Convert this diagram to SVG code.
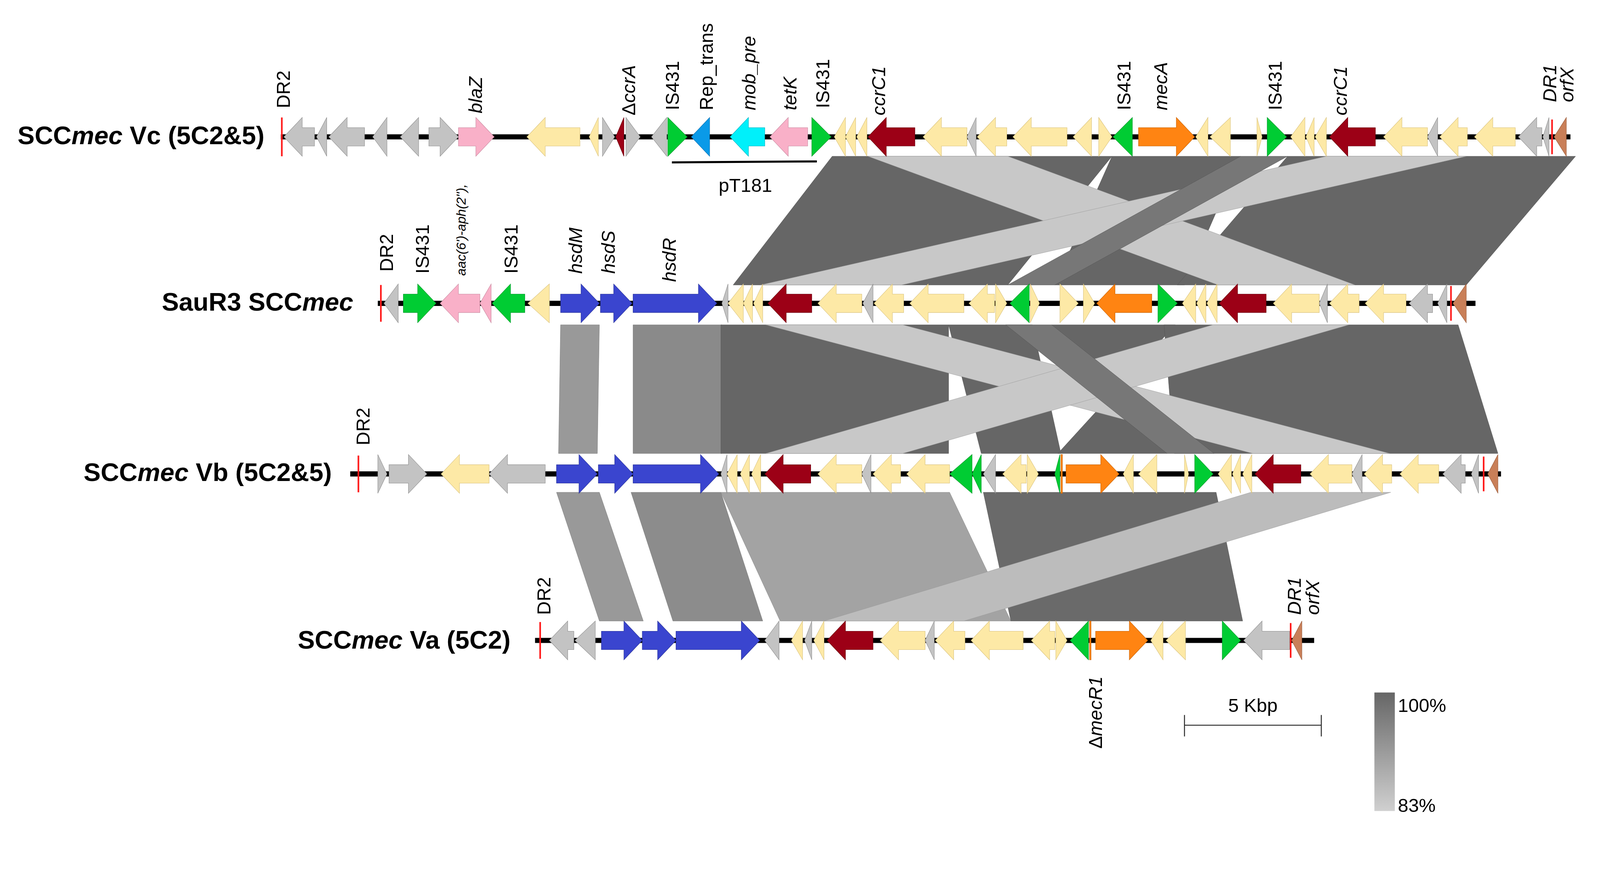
<svg xmlns="http://www.w3.org/2000/svg" width="4323" height="2247" viewBox="0 0 4323 2247">
<defs>
<style>
.gr{fill:#c3c3c3;stroke:#8f8f8f;stroke-width:.4}
.pk{fill:#f9b0c8;stroke:#c98aa0;stroke-width:.4}
.yl{fill:#fde9a6;stroke:#d9c27e;stroke-width:.4}
.rd{fill:#9c0016;stroke:#6a0010;stroke-width:.4}
.gn{fill:#00cc33;stroke:#00962a;stroke-width:.4}
.bl{fill:#0a9ae8;stroke:#0a70b0;stroke-width:.4}
.cy{fill:#00f0fa;stroke:#00b0c0;stroke-width:.4}
.hs{fill:#3a45cf;stroke:#2a3499;stroke-width:.4}
.or{fill:#ff8412;stroke:#c86000;stroke-width:.4}
.br{fill:#c97f58;stroke:#9a5c3c;stroke-width:.4}
.bb{stroke:#000;stroke-width:5}
.dr{stroke:#ff1a1a;stroke-width:1.6}
.lab{font-family:"Liberation Sans",Arial,sans-serif;font-size:18.5px;fill:#000}
.it{font-style:italic}
.row{font-family:"Liberation Sans",Arial,sans-serif;font-size:25px;font-weight:bold;text-anchor:end}
.dk{fill:#666;stroke:#555;stroke-width:.3}
.lt{fill:#c8c8c8;stroke:#999;stroke-width:.3}
.md{fill:#777;stroke:#555;stroke-width:.3}
</style>
<linearGradient id="leg" x1="0" y1="0" x2="0" y2="1"><stop offset="0" stop-color="#666"/><stop offset="1" stop-color="#d0d0d0"/></linearGradient>
</defs>
<rect width="4323" height="2247" fill="#fff"/>
<g transform="scale(2.614)">
<g id="connectors">
<polygon class="dk" points="815,153 1089,153 987,279 718,279"/>
<polygon class="dk" points="1089,153 1215,153 1160,279 1033,279"/>
<polygon class="dk" points="1261,153 1543,153 1436,279 1153,279"/>
<polygon class="lt" points="850,153 987,153 1327,279 1193,279"/>
<polygon class="lt" points="1299,153 1436,153 883,279 745,279"/>
<polygon class="md" points="1215,153 1261,153 1033,279 987,279"/>
<polygon fill="#999" stroke="#777" stroke-width=".3" points="549,318 587,318 585,444 547,444"/>
<polygon fill="#8a8a8a" stroke="#777" stroke-width=".3" points="620,318 707,318 707,444 620,444"/>
<polygon class="dk" points="706,318 929,318 929,444 706,444"/>
<polygon class="dk" points="929,318 1011,318 1039,444 961,444"/>
<polygon class="dk" points="1030,318 1151,318 1036,444 1143,444"/>
<polygon class="dk" points="1140,318 1428,318 1467,444 1150,444"/>
<polygon class="lt" points="750,318 884,318 1361,444 1227,444"/>
<polygon class="lt" points="1188,318 1321,318 884,444 750,444"/>
<polygon class="md" points="985,318 1030,318 1189,444 1143,444"/>
<polygon fill="#999" stroke="#777" stroke-width=".3" points="545,482 587,482 630,608 587,608"/>
<polygon fill="#8c8c8c" stroke="#777" stroke-width=".3" points="618,482 706,482 747,608 659,608"/>
<polygon fill="#a3a3a3" stroke="#888" stroke-width=".3" points="706,482 930,482 990,608 764,608"/>
<polygon fill="#6a6a6a" stroke="#555" stroke-width=".3" points="963,482 1191,482 1217,608 990,608"/>
<polygon fill="#bcbcbc" stroke="#999" stroke-width=".3" points="1225,482 1362,482 944,608 807,608"/>
</g>

<g id="row1" transform="translate(0,134)">
<line class="bb" x1="275" y1="0" x2="1538" y2="0"/>
<polygon class="gr" points="308,-9 296,-9 296,-19 278,0 296,19 296,9 308,9"/>
<polygon class="gr" points="320,-19 310,0 320,19"/>
<polygon class="gr" points="357,-9 340,-9 340,-19 322,0 340,19 340,9 357,9"/>
<polygon class="gr" points="379,-19 365,0 379,19"/>
<polygon class="gr" points="410,-19 392,0 410,19"/>
<polygon class="gr" points="420,-9 431,-9 431,-19 449,0 431,19 431,9 420,9"/>
<polygon class="pk" points="449,-9 466,-9 466,-19 484,0 466,19 466,9 449,9"/>
<polygon class="yl" points="568,-9 534,-9 534,-19 516,0 534,19 534,9 568,9"/>
<polygon class="yl" points="586,-19 577,0 586,19"/>
<polygon class="gr" points="590,-19 602,0 590,19"/>
<polygon class="rd" points="611,-19 603,0 611,19"/>
<polygon class="gr" points="613,-19 627,0 613,19"/>
<polygon class="gr" points="653,-19 638,0 653,19"/>
<polygon class="gn" points="654,-19 673,0 654,19"/>
<polygon class="bl" points="695,-19 677,0 695,19"/>
<polygon class="cy" points="749,-9 733,-9 733,-19 715,0 733,19 733,9 749,9"/>
<polygon class="pk" points="791,-9 772,-9 772,-19 754,0 772,19 772,9 791,9"/>
<polygon class="gn" points="795,-19 814,0 795,19"/>
<polygon class="yl" points="828,-19 817,0 828,19"/>
<polygon class="yl" points="838,-19 828,0 838,19"/>
<polygon class="yl" points="849,-19 839,0 849,19"/>
<polygon class="rd" points="896,-9 868,-9 868,-19 850,0 868,19 868,9 896,9"/>
<polygon class="yl" points="947,-9 922,-9 922,-19 904,0 922,19 922,9 947,9"/>
<polygon class="gr" points="956,-19 947,0 956,19"/>
<polygon class="yl" points="986,-9 975,-9 975,-19 957,0 975,19 975,9 986,9"/>
<polygon class="yl" points="1045,-9 1010,-9 1010,-19 992,0 1010,19 1010,9 1045,9"/>
<polygon class="yl" points="1069,-19 1051,0 1069,19"/>
<polygon class="yl" points="1076,-19 1089,0 1076,19"/>
<polygon class="gn" points="1109,-19 1090,0 1109,19"/>
<polygon class="or" points="1115,-9 1152,-9 1152,-19 1170,0 1152,19 1152,9 1115,9"/>
<polygon class="yl" points="1183,-19 1171,0 1183,19"/>
<polygon class="yl" points="1205,-19 1185,0 1205,19"/>
<polygon class="yl" points="1231,-19 1236,0 1231,19"/>
<polygon class="gn" points="1241,-19 1260,0 1241,19"/>
<polygon class="yl" points="1278,-19 1264,0 1278,19"/>
<polygon class="yl" points="1287,-19 1279,0 1287,19"/>
<polygon class="yl" points="1299,-19 1288,0 1299,19"/>
<polygon class="rd" points="1347,-9 1320,-9 1320,-19 1302,0 1320,19 1320,9 1347,9"/>
<polygon class="yl" points="1398,-9 1373,-9 1373,-19 1355,0 1373,19 1373,9 1398,9"/>
<polygon class="gr" points="1408,-19 1398,0 1408,19"/>
<polygon class="yl" points="1437,-9 1428,-9 1428,-19 1410,0 1428,19 1428,9 1437,9"/>
<polygon class="yl" points="1484,-9 1462,-9 1462,-19 1444,0 1462,19 1462,9 1484,9"/>
<polygon class="gr" points="1510,-9 1505,-9 1505,-19 1487,0 1505,19 1505,9 1510,9"/>
<polygon class="gr" points="1517,-19 1511,0 1517,19"/>
<polygon class="br" points="1534,-19 1522,0 1534,19"/>
<line class="dr" x1="276" y1="-19" x2="276" y2="19"/>
<line class="dr" x1="1520" y1="-17" x2="1520" y2="17"/>
</g>

<g id="row2" transform="translate(0,297)">
<line class="bb" x1="370" y1="0" x2="1445" y2="0"/>
<polygon class="gr" points="390,-19 376,0 390,19"/>
<polygon class="gn" points="395,-9 409,-9 409,-19 427,0 409,19 409,9 395,9"/>
<polygon class="pk" points="470,-9 449,-9 449,-19 431,0 449,19 449,9 470,9"/>
<polygon class="pk" points="481,-19 470,0 481,19"/>
<polygon class="gn" points="514,-9 500,-9 500,-19 482,0 500,19 500,9 514,9"/>
<polygon class="yl" points="538,-19 517,0 538,19"/>
<polygon class="hs" points="549,-9 569,-9 569,-19 587,0 569,19 569,9 549,9"/>
<polygon class="hs" points="588,-9 601,-9 601,-19 619,0 601,19 601,9 588,9"/>
<polygon class="hs" points="620,-9 684,-9 684,-19 702,0 684,19 684,9 620,9"/>
<polygon class="gr" points="713,-19 707,0 713,19"/>
<polygon class="yl" points="728,-19 713,0 728,19"/>
<polygon class="yl" points="737,-19 728,0 737,19"/>
<polygon class="yl" points="747,-19 738,0 747,19"/>
<polygon class="rd" points="795,-9 770,-9 770,-19 752,0 770,19 770,9 795,9"/>
<polygon class="yl" points="844,-9 819,-9 819,-19 801,0 819,19 819,9 844,9"/>
<polygon class="gr" points="855,-19 845,0 855,19"/>
<polygon class="yl" points="885,-9 874,-9 874,-19 856,0 874,19 874,9 885,9"/>
<polygon class="yl" points="944,-9 909,-9 909,-19 891,0 909,19 909,9 944,9"/>
<polygon class="yl" points="974,-9 967,-9 967,-19 949,0 967,19 967,9 974,9"/>
<polygon class="yl" points="975,-19 986,0 975,19"/>
<polygon class="gn" points="1008,-19 989,0 1008,19"/>
<polygon class="yl" points="1009,-19 1018,0 1009,19"/>
<polygon class="yl" points="1038,-19 1056,0 1038,19"/>
<polygon class="yl" points="1061,-19 1072,0 1061,19"/>
<polygon class="or" points="1128,-9 1092,-9 1092,-19 1074,0 1092,19 1092,9 1128,9"/>
<polygon class="gn" points="1134,-19 1153,0 1134,19"/>
<polygon class="yl" points="1171,-19 1158,0 1171,19"/>
<polygon class="yl" points="1181,-19 1172,0 1181,19"/>
<polygon class="yl" points="1192,-19 1182,0 1192,19"/>
<polygon class="rd" points="1240,-9 1212,-9 1212,-19 1194,0 1212,19 1212,9 1240,9"/>
<polygon class="yl" points="1292,-9 1265,-9 1265,-19 1247,0 1265,19 1265,9 1292,9"/>
<polygon class="gr" points="1300,-19 1292,0 1300,19"/>
<polygon class="yl" points="1331,-9 1320,-9 1320,-19 1302,0 1320,19 1320,9 1331,9"/>
<polygon class="yl" points="1377,-9 1355,-9 1355,-19 1337,0 1355,19 1355,9 1377,9"/>
<polygon class="gr" points="1403,-9 1398,-9 1398,-19 1380,0 1398,19 1398,9 1403,9"/>
<polygon class="gr" points="1417,-19 1408,0 1417,19"/>
<polygon class="br" points="1436,-19 1423,0 1436,19"/>
<line class="dr" x1="373" y1="-18" x2="373" y2="18"/>
<line class="dr" x1="1421" y1="-17" x2="1421" y2="17"/>
</g>

<g id="row3" transform="translate(0,464)">
<line class="bb" x1="343" y1="0" x2="1470" y2="0"/>
<polygon class="gr" points="370,-19 379,0 370,19"/>
<polygon class="gr" points="381,-9 400,-9 400,-19 418,0 400,19 400,9 381,9"/>
<polygon class="yl" points="479,-9 450,-9 450,-19 432,0 450,19 450,9 479,9"/>
<polygon class="gr" points="534,-9 497,-9 497,-19 479,0 497,19 497,9 534,9"/>
<polygon class="hs" points="545,-9 567,-9 567,-19 585,0 567,19 567,9 545,9"/>
<polygon class="hs" points="586,-9 602,-9 602,-19 620,0 602,19 602,9 586,9"/>
<polygon class="hs" points="620,-9 686,-9 686,-19 704,0 686,19 686,9 620,9"/>
<polygon class="gr" points="712,-19 706,0 712,19"/>
<polygon class="yl" points="722,-19 712,0 722,19"/>
<polygon class="yl" points="734,-19 725,0 734,19"/>
<polygon class="yl" points="745,-19 736,0 745,19"/>
<polygon class="rd" points="794,-9 767,-9 767,-19 749,0 767,19 767,9 794,9"/>
<polygon class="yl" points="844,-9 819,-9 819,-19 801,0 819,19 819,9 844,9"/>
<polygon class="gr" points="853,-19 844,0 853,19"/>
<polygon class="yl" points="882,-9 873,-9 873,-19 855,0 873,19 873,9 882,9"/>
<polygon class="yl" points="930,-9 906,-9 906,-19 888,0 906,19 906,9 930,9"/>
<polygon class="gn" points="952,-19 930,0 952,19"/>
<polygon class="gn" points="961,-19 952,0 961,19"/>
<polygon class="gr" points="975,-19 963,0 975,19"/>
<polygon class="yl" points="1005,-9 1000,-9 1000,-19 982,0 1000,19 1000,9 1005,9"/>
<polygon class="yl" points="1006,-19 1017,0 1006,19"/>
<polygon class="gn" points="1038,-19 1033,0 1038,19"/>
<rect class="or" x="1039" y="-19" width="1.5" height="38"/>
<polygon class="or" points="1044,-9 1078,-9 1078,-19 1096,0 1078,19 1078,9 1044,9"/>
<polygon class="yl" points="1110,-19 1100,0 1110,19"/>
<polygon class="yl" points="1133,-19 1115,0 1133,19"/>
<polygon class="yl" points="1160,-19 1164,0 1160,19"/>
<polygon class="gn" points="1170,-19 1188,0 1170,19"/>
<polygon class="yl" points="1206,-19 1193,0 1206,19"/>
<polygon class="yl" points="1215,-19 1207,0 1215,19"/>
<polygon class="yl" points="1226,-19 1217,0 1226,19"/>
<polygon class="rd" points="1274,-9 1247,-9 1247,-19 1229,0 1247,19 1247,9 1274,9"/>
<polygon class="yl" points="1324,-9 1301,-9 1301,-19 1283,0 1301,19 1301,9 1324,9"/>
<polygon class="gr" points="1334,-19 1324,0 1334,19"/>
<polygon class="yl" points="1363,-9 1354,-9 1354,-19 1336,0 1354,19 1354,9 1363,9"/>
<polygon class="yl" points="1409,-9 1389,-9 1389,-19 1371,0 1389,19 1389,9 1409,9"/>
<polygon class="gr" points="1435,-9 1431,-9 1431,-19 1413,0 1431,19 1431,9 1435,9"/>
<polygon class="gr" points="1448,-19 1441,0 1448,19"/>
<polygon class="br" points="1467,-19 1457,0 1467,19"/>
<line class="dr" x1="351" y1="-18" x2="351" y2="18"/>
<line class="dr" x1="1453" y1="-17" x2="1453" y2="17"/>
</g>

<g id="row4" transform="translate(0,627)">
<line class="bb" x1="524" y1="0" x2="1287" y2="0"/>
<polygon class="gr" points="562,-9 556,-9 556,-19 538,0 556,19 556,9 562,9"/>
<polygon class="gr" points="583,-19 563,0 583,19"/>
<polygon class="hs" points="589,-9 611,-9 611,-19 629,0 611,19 611,9 589,9"/>
<polygon class="hs" points="629,-9 644,-9 644,-19 662,0 644,19 644,9 629,9"/>
<polygon class="hs" points="662,-9 726,-9 726,-19 744,0 726,19 726,9 662,9"/>
<polygon class="gr" points="763,-19 749,0 763,19"/>
<polygon class="yl" points="786,-19 775,0 786,19"/>
<polygon class="gr" points="795,-19 788,0 795,19"/>
<polygon class="yl" points="807,-19 797,0 807,19"/>
<polygon class="rd" points="855,-9 828,-9 828,-19 810,0 828,19 828,9 855,9"/>
<polygon class="yl" points="906,-9 880,-9 880,-19 862,0 880,19 880,9 906,9"/>
<polygon class="gr" points="915,-19 906,0 915,19"/>
<polygon class="yl" points="945,-9 934,-9 934,-19 916,0 934,19 934,9 945,9"/>
<polygon class="yl" points="1002,-9 969,-9 969,-19 951,0 969,19 969,9 1002,9"/>
<polygon class="yl" points="1033,-9 1028,-9 1028,-19 1010,0 1028,19 1028,9 1033,9"/>
<polygon class="yl" points="1034,-19 1045,0 1034,19"/>
<polygon class="gn" points="1066,-19 1048,0 1066,19"/>
<rect class="or" x="1067" y="-19" width="1.5" height="38"/>
<polygon class="or" points="1073,-9 1106,-9 1106,-19 1124,0 1106,19 1106,9 1073,9"/>
<polygon class="yl" points="1139,-19 1127,0 1139,19"/>
<polygon class="yl" points="1161,-19 1142,0 1161,19"/>
<polygon class="gn" points="1197,-19 1215,0 1197,19"/>
<polygon class="gr" points="1263,-9 1236,-9 1236,-19 1218,0 1236,19 1236,9 1263,9"/>
<polygon class="br" points="1275,-19 1265,0 1275,19"/>
<line class="dr" x1="529" y1="-18" x2="529" y2="18"/>
<line class="dr" x1="1264" y1="-17" x2="1264" y2="17"/>
</g>

<g id="labels" class="lab">
<text class="row" x="259" y="141">SCC<tspan font-style="italic">mec</tspan> Vc (5C2&amp;5)</text>
<text class="row" x="346" y="304">SauR3 SCC<tspan font-style="italic">mec</tspan></text>
<text class="row" x="325" y="471">SCC<tspan font-style="italic">mec</tspan> Vb (5C2&amp;5)</text>
<text class="row" x="500" y="635">SCC<tspan font-style="italic">mec</tspan> Va (5C2)</text>

<text transform="translate(284,106) rotate(-90)">DR2</text>
<text class="it" transform="translate(472,111) rotate(-90)">blaZ</text>
<text transform="translate(622,113) rotate(-90)">Δ<tspan font-style="italic">ccrA</tspan></text>
<text transform="translate(665,108) rotate(-90)">IS431</text>
<text transform="translate(698,108) rotate(-90)">Rep_trans</text>
<text class="it" transform="translate(740,108) rotate(-90)">mob_pre</text>
<text class="it" transform="translate(780,108) rotate(-90)">tetK</text>
<text transform="translate(812,106) rotate(-90)">IS431</text>
<text class="it" transform="translate(867,113) rotate(-90)">ccrC1</text>
<text transform="translate(1107,108) rotate(-90)">IS431</text>
<text class="it" transform="translate(1143,108) rotate(-90)">mecA</text>
<text transform="translate(1255,108) rotate(-90)">IS431</text>
<text class="it" transform="translate(1319,113) rotate(-90)">ccrC1</text>
<text class="it" transform="translate(1524,100) rotate(-90)">DR1</text>
<text class="it" transform="translate(1541,100) rotate(-90)">orfX</text>
<line x1="658" y1="159" x2="800" y2="158" stroke="#000" stroke-width="2"/>
<text x="730" y="188" text-anchor="middle">pT181</text>

<text transform="translate(385,266) rotate(-90)">DR2</text>
<text transform="translate(420,268) rotate(-90)">IS431</text>
<text class="it" font-size="13" transform="translate(456,270) rotate(-90)">aac(6')-aph(2''),</text>
<text transform="translate(507,268) rotate(-90)">IS431</text>
<text class="it" transform="translate(570,268) rotate(-90)">hsdM</text>
<text class="it" transform="translate(602,268) rotate(-90)">hsdS</text>
<text class="it" transform="translate(662,276) rotate(-90)">hsdR</text>

<text transform="translate(362,436) rotate(-90)">DR2</text>
<text transform="translate(539,602) rotate(-90)">DR2</text>
<text class="it" transform="translate(1274,602) rotate(-90)">DR1</text>
<text class="it" transform="translate(1292,602) rotate(-90)">orfX</text>
<text transform="translate(1079,733) rotate(-90)">Δ<tspan font-style="italic">mecR1</tspan></text>

<text x="1227" y="697" text-anchor="middle">5 Kbp</text>
<g stroke="#333" stroke-width="1"><line x1="1160" y1="710" x2="1294" y2="710"/><line x1="1160" y1="700" x2="1160" y2="721"/><line x1="1294" y1="700" x2="1294" y2="721"/></g>
<rect x="1346" y="678" width="20" height="116" fill="url(#leg)"/>
<text x="1369" y="697">100%</text>
<text x="1369" y="795">83%</text>
</g>
</g>
</svg>
